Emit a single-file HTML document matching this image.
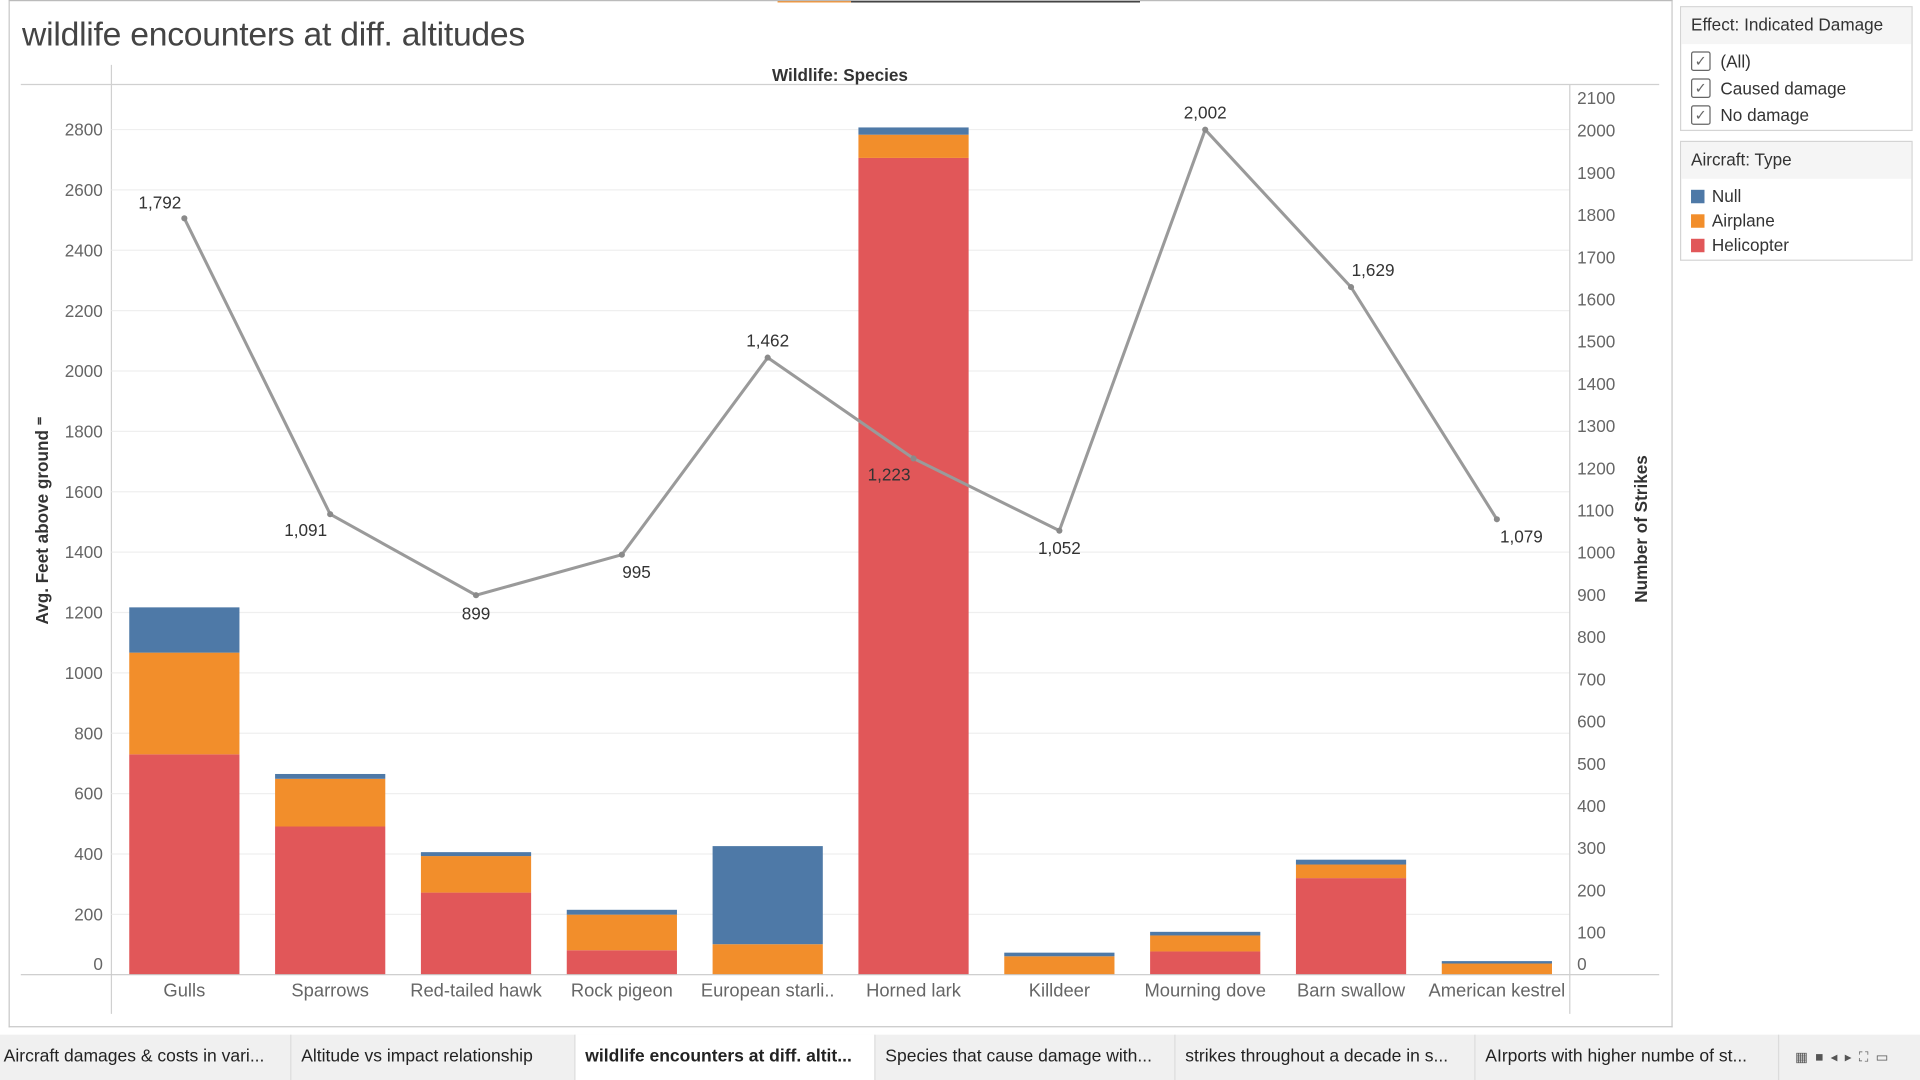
<!DOCTYPE html>
<html><head><meta charset="utf-8"><style>
html,body{margin:0;padding:0;width:1920px;height:1080px;overflow:hidden;background:#fff;font-family:"Liberation Sans",sans-serif}
#wrap{position:absolute;left:0;top:0;width:1568px;height:882px;transform:scale(1.22449);transform-origin:0 0}
.abs{position:absolute}
.legend{position:absolute;left:1372px;width:188px;border:1px solid #d4d4d4;background:#fff}
.lh{background:#f5f5f5;height:30px;line-height:28px;padding-left:8px;font-size:14px;color:#333}
.li{height:22px;line-height:22px;font-size:14px;color:#333;padding-left:8px;display:flex;align-items:center}
.cb{width:14px;height:14px;border:1px solid #666;border-radius:2px;margin-right:8px;font-size:12px;line-height:14px;text-align:center;color:#666}
.sw{width:11px;height:11px;margin-right:6px}
.tabs{position:absolute;left:0;top:845px;width:1568px;height:37px;background:#f0f0f0;display:flex}
.tab{height:37px;line-height:37px;font-size:14.3px;color:#222;padding:0 8px 0 4px;border-right:1px solid #dcdcdc;white-space:nowrap;overflow:hidden;box-sizing:border-box}
.tab.act{background:#fff;font-weight:bold}
</style></head><body>
<div id="wrap">
<div class="abs" style="left:635px;top:0;width:60px;height:2px;background:#f28e2b"></div>
<div class="abs" style="left:695px;top:0;width:236px;height:2px;background:#222"></div>
<div class="abs" style="left:7px;top:0;width:1357px;height:837px;border:1px solid #c8c8c8;border-top:1px solid #bbb"></div>
<div class="abs" style="left:18px;top:12px;font-size:27.5px;color:#444;letter-spacing:-0.2px">wildlife encounters at diff. altitudes</div>
<svg class="abs" style="left:0;top:0" width="1568" height="845" id="chart"></svg>

<div class="legend" style="top:5px;height:100px">
<div class="lh">Effect: Indicated Damage</div>
<div class="li" style="margin-top:3px"><span class="cb">✓</span>(All)</div>
<div class="li"><span class="cb">✓</span>Caused damage</div>
<div class="li"><span class="cb">✓</span>No damage</div>
</div>
<div class="legend" style="top:115px;height:96px">
<div class="lh">Aircraft: Type</div>
<div class="li" style="height:20px;margin-top:4px"><span class="sw" style="background:#4e79a7"></span>Null</div>
<div class="li" style="height:20px"><span class="sw" style="background:#f28e2b"></span>Airplane</div>
<div class="li" style="height:20px"><span class="sw" style="background:#e15759"></span>Helicopter</div>
</div>

<div class="tabs">
<div class="tab" style="width:238px;padding-left:3px">Aircraft damages &amp; costs in vari...</div>
<div class="tab" style="width:232px;padding-left:8px">Altitude vs impact relationship</div>
<div class="tab act" style="width:245px;padding-left:8px">wildlife encounters at diff. altit...</div>
<div class="tab" style="width:245px;padding-left:8px">Species that cause damage with...</div>
<div class="tab" style="width:245px;padding-left:8px">strikes throughout a decade in s...</div>
<div class="tab" style="width:248px;padding-left:8px">AIrports with higher numbe of st...</div>
<div class="abs" style="left:1466px;top:12px;font-size:11px;color:#555;letter-spacing:6px">▦■◂▸⛶▭</div>
</div>
</div>
<script>
const categories=["Gulls","Sparrows","Red-tailed hawk","Rock pigeon","European starli..","Horned lark","Killdeer","Mourning dove","Barn swallow","American kestrel"];
const helicopter=[730,491,272,81,0,2706,0,77,320,0];
const airplane=[337,158,121,118,101,77,61,53,45,37];
const nullType=[150,16,13,16,325,24,12,12,16,8];
const strikes=[1792,1091,899,995,1462,1223,1052,2002,1629,1079];
const strikeLabels=["1,792","1,091","899","995","1,462","1,223","1,052","2,002","1,629","1,079"];
const leftTicks=[0,200,400,600,800,1000,1200,1400,1600,1800,2000,2200,2400,2600,2800];
const rightTicks=[0,100,200,300,400,500,600,700,800,900,1000,1100,1200,1300,1400,1500,1600,1700,1800,1900,2000,2100];
const labelOffsets=[[-20,-8],[-20,18],[0,20],[12,19],[0,-9],[-20,18],[0,19],[0,-9],[18,-9],[20,19]];

const svg=document.getElementById('chart');const NS='http://www.w3.org/2000/svg';
const X0=91,X1=1282,BASE=796;
const band=(X1-X0)/categories.length;
const xC=i=>X0+band*(i+0.5);
const yL=v=>BASE-v*0.2465;
const yR=v=>BASE-v*0.3447;
function mk(t,a,txt){const e=document.createElementNS(NS,t);for(const k in a)e.setAttribute(k,a[k]);if(txt!==undefined)e.textContent=txt;svg.appendChild(e);return e;}
let e;
e=mk('line',{x1:17,x2:1355,y1:69,y2:69,stroke:'#d0d0d0'});


e=mk('line',{x1:X0,x2:X0,y1:53,y2:828,stroke:'#d0d0d0'});


e=mk('text',{x:686,y:66,'text-anchor':'middle','font-size':14,'font-weight':'bold',fill:'#333'},'Wildlife: Species');


leftTicks.forEach(v=>{
  if(v>0){e=mk('line',{x1:X0,x2:X1,y1:yL(v),y2:yL(v),stroke:'#efefef'});
  
  }
  e=mk('text',{x:84,y:v===0?yL(v)-4:yL(v)+5,'text-anchor':'end','font-size':14,fill:'#666'},String(v));
  
  
});
rightTicks.forEach(v=>{
  e=mk('text',{x:1288,y:v===0?yR(v)-4:(v===2100?yR(v)+13:yR(v)+5),'font-size':14,fill:'#666'},String(v));
  
  
});
e=mk('text',{transform:'translate(39,425) rotate(-90)','text-anchor':'middle','font-size':14,'font-weight':'bold',fill:'#333'},'Avg. Feet above ground ⁼');


e=mk('text',{transform:'translate(1345,432) rotate(-90)','text-anchor':'middle','font-size':14,'font-weight':'bold',fill:'#333'},'Number of Strikes');


const bw=90;
categories.forEach((c,i)=>{
  const segs=[[helicopter[i],'#e15759','helicopter'],[airplane[i],'#f28e2b','airplane'],[nullType[i],'#4e79a7','null']];
  let acc=0;
  segs.forEach(([v,col,n])=>{
    if(v<=0)return;
    const r=mk('rect',{x:xC(i)-bw/2,y:yL(acc+v),width:bw,height:yL(acc)-yL(acc+v),fill:col});
    
    
    acc+=v;
  });
  e=mk('text',{x:xC(i),y:814,'text-anchor':'middle','font-size':15,fill:'#666'},c);
  
  
});
e=mk('line',{x1:17,x2:1355,y1:BASE,y2:BASE,stroke:'#c8c8c8'});


e=mk('line',{x1:X1,x2:X1,y1:69,y2:828,stroke:'#d0d0d0'});


const pts=strikes.map((v,i)=>xC(i)+','+yR(v)).join(' ');
e=mk('polyline',{points:pts,fill:'none',stroke:'#9a9a9a','stroke-width':2.5});


strikes.forEach((v,i)=>{
  e=mk('circle',{cx:xC(i),cy:yR(v),r:2.5,fill:'#8a8a8a'});
  
  
  e=mk('text',{x:xC(i)+labelOffsets[i][0],y:yR(v)+labelOffsets[i][1],'text-anchor':'middle','font-size':14,fill:'#333'},strikeLabels[i]);
  
  
});
</script>
</body></html>
